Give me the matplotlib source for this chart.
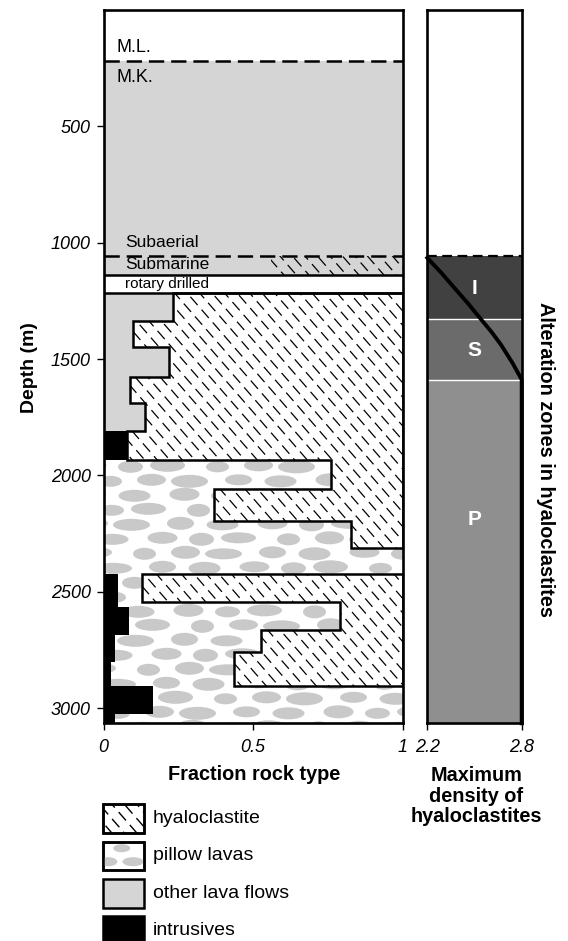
import numpy as np
import matplotlib
matplotlib.use("Agg")
import matplotlib.pyplot as plt
from matplotlib.patches import Rectangle, Polygon, Ellipse
from matplotlib.collections import LineCollection
from matplotlib.path import Path

plt.rcParams['font.family'] = ['Liberation Sans', 'DejaVu Sans']
plt.rcParams['lines.scale_dashes'] = False

# upper part of the hole (m)
ml_mk_depth = 220
subaerial_depth = 1058
submarine_bot = 1140
rotary_bot = 1215
submarine_hyalo_from = 0.56
hole_bottom = 3065

# cored section: depth intervals and fraction of each rock type
seg_top = [1215, 1335, 1450, 1575, 1690, 1810, 1935, 2060, 2195, 2310,
           2425, 2545, 2565, 2665, 2685, 2760, 2800, 2905, 3025]
seg_bot = seg_top[1:] + [hole_bottom]
intrusive = [0, 0, 0, 0, 0, 0.078, 0, 0, 0, 0,
             0.05, 0.05, 0.085, 0.085, 0.037, 0.037, 0.026, 0.166, 0.037]
other_lava = [0.233, 0.099, 0.22, 0.088, 0.138, 0, 0, 0, 0, 0,
              0, 0, 0, 0, 0, 0, 0, 0, 0]
pillow = [0, 0, 0, 0, 0, 0, 0.76, 0.37, 0.826, 1.0,
          0.08, 0.74, 0.705, 0.44, 0.488, 0.398, 0.409, 0.834, 0.963]

# alteration zones in hyaloclastites
zone_labels = ['I', 'S', 'P']
zone_top = [1058, 1328, 1590]
zone_bot = [1328, 1590, 3065]
zone_label_depth = [1195, 1465, 2190]
zone_colors = ['#414141', '#6b6b6b', '#8f8f8f']

# maximum density of hyaloclastites
max_density = [2.2, 2.29, 2.38, 2.46, 2.54, 2.61, 2.67, 2.74, 2.8, 2.8]
density_depth = [1065, 1130, 1200, 1262, 1328, 1385, 1440, 1515, 1588, 3065]

legend_labels = ['hyaloclastite', 'pillow lavas', 'other lava flows', 'intrusives']

LAVA_GRAY = '#d5d5d5'
PILLOW_GRAY = '#c9c9c9'
W, H = 568, 941


def rect_path(x0, x1, y0, y1):
    return Path([(x0, y0), (x1, y0), (x1, y1), (x0, y1), (x0, y0)],
                [Path.MOVETO, Path.LINETO, Path.LINETO, Path.LINETO, Path.CLOSEPOLY])


def hyalo_strokes(ax, clip, xr, yr, sx, sy, lw=0.9):
    # dashed "\" strokes of the hyaloclastite symbol, built in pixel units
    u0, u1 = xr[0] / sx, xr[1] / sx
    v0, v1 = yr[0] / sy, yr[1] / sy
    slope = 1.15
    step = 12.5 * slope
    dash, period = 11.0, 17.0
    norm = np.sqrt(1 + slope ** 2)
    du, pu = dash / norm, period / norm
    segs = []
    c = np.floor((v0 - slope * u1) / step) * step - step
    k = 0
    while c < v1 + step:
        phase = ((k * 0.41) % 1.0) * pu
        u = np.floor(u0 / pu) * pu - pu + phase
        while u < u1 + pu:
            a = (u * sx, (c + slope * u) * sy)
            b = ((u + du) * sx, (c + slope * (u + du)) * sy)
            segs.append([a, b])
            u += pu
        c += step
        k += 1
    lc = LineCollection(segs, colors='black', linewidths=lw, zorder=3)
    ax.add_collection(lc)
    lc.set_clip_path(clip, ax.transData)


def pillow_blobs(ax, clip, xr, yr, sx, sy):
    widths = [30, 25, 35, 23, 29, 37, 27, 32]
    v = yr[0] / sy + 5
    row = 0
    while v < yr[1] / sy + 8:
        u = xr[0] / sx - 12 + (row * 19) % 37
        j = row * 3
        while u < xr[1] / sx + 20:
            w = widths[j % 8]
            h = 11 + (j % 3)
            e = Ellipse((u * sx, (v + (j % 2) * 1.5) * sy), w * sx, h * sy,
                        facecolor=PILLOW_GRAY, edgecolor='none', zorder=2)
            ax.add_patch(e)
            e.set_clip_path(clip, ax.transData)
            u += w + 9 + (j % 4) * 3
            j += 1
        v += 14.5
        row += 1


fig = plt.figure(figsize=(W / 100, H / 100), dpi=100)

# overlay in pixel units for the legend
lg = fig.add_axes([0, 0, 1, 1])
lg.set_xlim(0, W)
lg.set_ylim(H, 0)
lg.axis('off')

ax = fig.add_axes([103.5 / W, 1 - 723.3 / H, 299.2 / W, 713.3 / H])
ax2 = fig.add_axes([427.3 / W, 1 - 723.3 / H, 94.4 / W, 713.3 / H])

sx = 1 / 299.2
sy = hole_bottom / 713.3

ax.set_xlim(0, 1)
ax.set_ylim(hole_bottom, 0)

# upper section
ax.add_patch(Rectangle((0, ml_mk_depth), 1, submarine_bot - ml_mk_depth,
                       facecolor=LAVA_GRAY, edgecolor='none', zorder=1))
sub_clip = rect_path(submarine_hyalo_from, 1, subaerial_depth, submarine_bot)
hyalo_strokes(ax, sub_clip, (submarine_hyalo_from, 1), (subaerial_depth, submarine_bot), sx, sy)
for d in [ml_mk_depth, subaerial_depth]:
    ax.plot([0, 1], [d, d], color='black', lw=1.8, ls=(0, (11, 5)), zorder=6)
for d in [submarine_bot, rotary_bot]:
    ax.plot([0, 1], [d, d], color='black', lw=1.8, zorder=6)

ax.text(0.045, 163, 'M.L.', fontsize=13, va='center', zorder=7)
ax.text(0.045, 292, 'M.K.', fontsize=13, va='center', zorder=7)
ax.text(0.072, 997, 'Subaerial', fontsize=12.5, va='center', zorder=7)
ax.text(0.072, 1093, 'Submarine', fontsize=12.5, va='center', zorder=7)
ax.text(0.072, 1177, 'rotary drilled', fontsize=11, va='center', zorder=7)

# cored section
e1 = np.array(intrusive)
e2 = e1 + np.array(other_lava)
e3 = e2 + np.array(pillow)
tops = np.array(seg_top)
bots = np.array(seg_bot)

for i in range(len(tops)):
    if other_lava[i] > 0:
        ax.add_patch(Rectangle((e1[i], tops[i]), other_lava[i], bots[i] - tops[i],
                               facecolor=LAVA_GRAY, edgecolor='none', zorder=1))
    if intrusive[i] > 0:
        ax.add_patch(Rectangle((0, tops[i]), intrusive[i], bots[i] - tops[i],
                               facecolor='black', edgecolor='none', zorder=5))

# pillow lava area
verts, codes = [], []
for i in range(len(tops)):
    if pillow[i] > 0:
        p = rect_path(e2[i], e3[i], tops[i], bots[i])
        verts += list(p.vertices)
        codes += list(p.codes)
pillow_clip = Path(verts, codes)
pillow_blobs(ax, pillow_clip, (0, 1), (seg_top[6], hole_bottom), sx, sy)

# hyaloclastite blocks (contiguous runs)
runs, cur = [], []
for i in range(len(tops)):
    if e3[i] < 0.999:
        cur.append(i)
    elif cur:
        runs.append(cur)
        cur = []
if cur:
    runs.append(cur)
for run in runs:
    pts = [(1, tops[run[0]])]
    for i in run:
        pts.append((e3[i], tops[i]))
        pts.append((e3[i], bots[i]))
    pts.append((1, bots[run[-1]]))
    poly = Polygon(pts, closed=True, facecolor='none', edgecolor='black', lw=1.8,
                   joinstyle='miter', zorder=4)
    ax.add_patch(poly)
    hyalo_strokes(ax, Path(pts + [pts[0]]), (0, 1), (tops[run[0]], bots[run[-1]]), sx, sy)

ax.set_yticks([500, 1000, 1500, 2000, 2500, 3000])
ax.set_xticks([0, 0.5, 1])
ax.set_xticklabels(['0', '0.5', '1'])
ax.tick_params(direction='out', length=5, width=1, labelsize=13, pad=4)
ax.tick_params(axis='x', pad=6)
for lbl in ax.get_xticklabels() + ax.get_yticklabels():
    lbl.set_fontstyle('italic')
for s in ax.spines.values():
    s.set_linewidth(1.9)
    s.set_zorder(8)

# right panel: alteration zones and max density
ax2.set_xlim(2.2, 2.8)
ax2.set_ylim(hole_bottom, 0)
for lab, t, b, c, ld in zip(zone_labels, zone_top, zone_bot, zone_colors, zone_label_depth):
    ax2.axhspan(t, b, color=c, lw=0, zorder=1)
    ax2.text(2.5, ld, lab, color='white', fontsize=15, fontweight='bold',
             ha='center', va='center', zorder=3)
for t in zone_top[1:]:
    ax2.axhline(t, color='white', lw=1, zorder=2)
ax2.axhline(zone_top[0], color='black', lw=1.6, ls=(0, (7, 4)), zorder=2)
ax2.plot(max_density, density_depth, color='black', lw=2.8, zorder=4,
         clip_on=False, solid_joinstyle='round')
ax2.set_yticks([])
ax2.set_xticks([2.2, 2.8])
ax2.set_xticklabels(['2.2', '2.8'])
ax2.tick_params(direction='out', length=5, width=1, labelsize=13, pad=6)
for lbl in ax2.get_xticklabels():
    lbl.set_fontstyle('italic')
for s in ax2.spines.values():
    s.set_linewidth(1.9)
    s.set_zorder(8)

# axis titles
fig.text(30 / W, 1 - 368 / H, 'Depth (m)', rotation=90, fontsize=14,
         fontweight='bold', ha='center', va='center')
fig.text(254 / W, 1 - 775 / H, 'Fraction rock type', fontsize=14.3,
         fontweight='bold', ha='center', va='center')
fig.text(476.5 / W, 1 - 796 / H, 'Maximum\ndensity of\nhyaloclastites', fontsize=14.3,
         fontweight='bold', ha='center', va='center', linespacing=1.12)
fig.text(546 / W, 1 - 460 / H, 'Alteration zones in hyaloclastites', rotation=-90,
         fontsize=14.3, fontweight='bold', ha='center', va='center')

# legend
box_x, box_w, box_h = 103, 40.5, 28.4
box_tops = [804.3, 841.7, 879.3, 916.3]
for k, (lab, y0) in enumerate(zip(legend_labels, box_tops)):
    fc = {2: LAVA_GRAY, 3: 'black'}.get(k, 'white')
    lg.add_patch(Rectangle((box_x, y0), box_w, box_h, facecolor=fc,
                           edgecolor='black', lw=1.8, zorder=4 if k == 3 else 1))
    clip = rect_path(box_x, box_x + box_w, y0, y0 + box_h)
    if k == 0:
        hyalo_strokes(lg, clip, (box_x, box_x + box_w), (y0, y0 + box_h), 1, 1, lw=1.0)
    if k == 1:
        for (cx, cy, w, h) in [(121.7, y0 + 6.5, 17, 8), (108.3, y0 + 20, 18, 9),
                               (133, y0 + 20, 21, 9)]:
            e = Ellipse((cx, cy), w, h, facecolor=PILLOW_GRAY, edgecolor='none', zorder=2)
            lg.add_patch(e)
            e.set_clip_path(clip, lg.transData)
    if k in (0, 1):
        lg.add_patch(Rectangle((box_x, y0), box_w, box_h, facecolor='none',
                               edgecolor='black', lw=1.8, zorder=4))
    lg.text(152.7, y0 + box_h / 2, lab, fontsize=14, va='center', ha='left')

fig.savefig('out.png', dpi=100)
